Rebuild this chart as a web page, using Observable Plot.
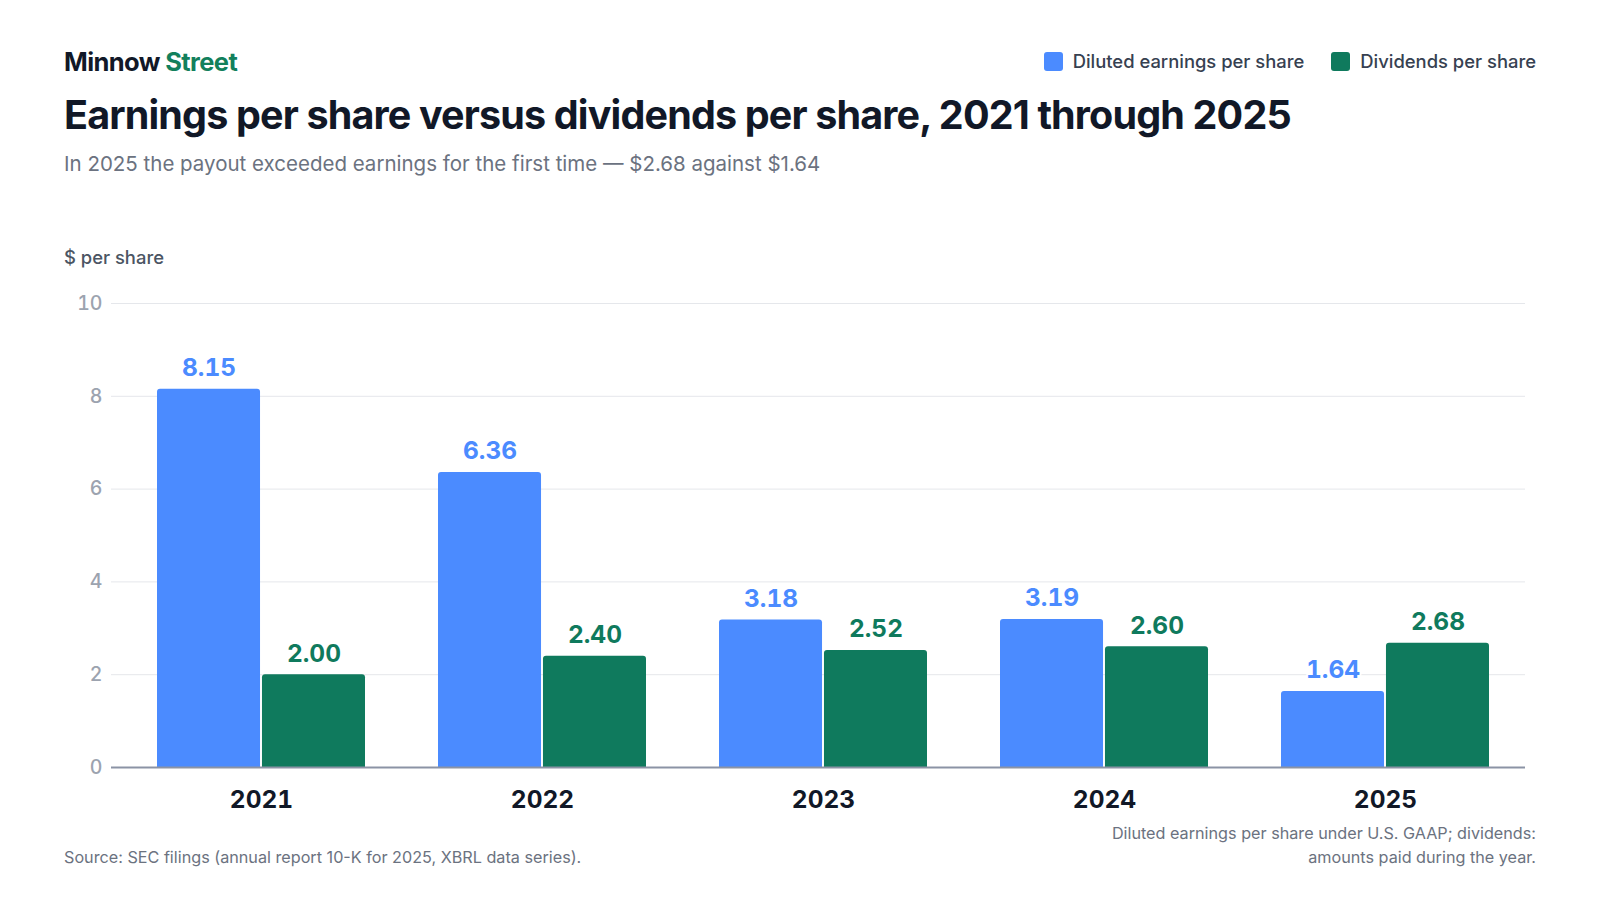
<!DOCTYPE html>
<html>
<head>
<meta charset="utf-8">
<script src="https://cdn.jsdelivr.net/npm/d3@7"></script>
<script src="https://cdn.jsdelivr.net/npm/@observablehq/plot@0.6"></script>
<style>
  html, body { margin: 0; padding: 0; background: #fff; }
  body { width: 1600px; height: 900px; position: relative; font-family: Inter, "Noto Sans", sans-serif; overflow: hidden; }
  .abs { position: absolute; white-space: nowrap; }
  #brand { left: 64px; top: 46px; font-size: 25.5px; font-weight: 700; color: #111827; letter-spacing: -0.6px; line-height: 32px; }
  #brand span { color: #12805c; }
  #title { left: 64px; top: 90px; font-size: 39.5px; font-weight: 700; color: #111827; letter-spacing: -0.85px; line-height: 50px; }
  #subtitle { left: 64px; top: 150px; font-size: 20.5px; font-weight: 400; color: #6b7280; line-height: 28px; }
  #legend { right: 64px; top: 48px; display: flex; gap: 27px; font-size: 18.4px; font-weight: 500; color: #374151; line-height: 26px; }
  #legend .item { display: flex; align-items: center; gap: 10px; }
  #legend .sw { width: 19px; height: 19px; border-radius: 3px; display: inline-block; }
  #ylabel { left: 64px; top: 245px; font-size: 18.4px; font-weight: 500; color: #4b5563; line-height: 24px; }
  #chart { left: 0; top: 270px; }
  #source { left: 64px; top: 845px; font-size: 16.2px; color: #6b7280; line-height: 24px; }
  #note { right: 64px; top: 822px; font-size: 16.2px; color: #6b7280; line-height: 23.5px; text-align: right; }
</style>
</head>
<body>
<div id="brand" class="abs">Minnow <span>Street</span></div>
<div id="legend" class="abs"></div>
<div id="title" class="abs">Earnings per share versus dividends per share, 2021 through 2025</div>
<div id="subtitle" class="abs">In 2025 the payout exceeded earnings for the first time — $2.68 against $1.64</div>
<div id="ylabel" class="abs">$ per share</div>
<div id="chart" class="abs"></div>
<div id="source" class="abs">Source: SEC filings (annual report 10-K for 2025, XBRL data series).</div>
<div id="note" class="abs">Diluted earnings per share under U.S. GAAP; dividends:<br>amounts paid during the year.</div>
<script>
const years = ["2021", "2022", "2023", "2024", "2025"];
const seriesNames = ["Diluted earnings per share", "Dividends per share"];
const seriesColors = ["#4b8bff", "#0f7a5d"];
const eps = [8.15, 6.36, 3.18, 3.19, 1.64];
const dividends = [2.00, 2.40, 2.52, 2.60, 2.68];
const yTicks = [0, 2, 4, 6, 8, 10];

const epsData = years.map((yr, i) => ({year: yr, series: seriesNames[0], value: eps[i]}));
const divData = years.map((yr, i) => ({year: yr, series: seriesNames[1], value: dividends[i]}));

// legend
const legend = document.getElementById("legend");
seriesNames.forEach((name, i) => {
  const item = document.createElement("div");
  item.className = "item";
  const sw = document.createElement("span");
  sw.className = "sw";
  sw.style.background = seriesColors[i];
  item.appendChild(sw);
  item.appendChild(document.createTextNode(name));
  legend.appendChild(item);
});

// layout
const W = 1600, mL = 111, mR = 75, xInset = 9;
const padInner = 0.26, padOuter = 0.13, barGap = 2;
const step = (W - mL - mR - xInset) / (years.length - padInner + 2 * padOuter);
const groupWidth = step * (1 - padInner);
const half = (groupWidth + barGap) / 2;   // inset that leaves one bar of the pair
const shift = (groupWidth + barGap) / 4;  // label offset to a bar centre

const labelStyle = {fontSize: 24.5, fontWeight: 700, fontVariant: "tabular-nums", stroke: "white", strokeWidth: 4, paintOrder: "stroke", dy: -21};

const chart = Plot.plot({
  width: W,
  height: 580,
  marginLeft: mL,
  marginRight: mR,
  marginTop: 33,
  marginBottom: 83,
  style: {fontFamily: "Inter, 'Noto Sans', sans-serif", background: "transparent", overflow: "visible"},
  x: {domain: years, paddingInner: padInner, paddingOuter: padOuter, insetLeft: xInset, label: null},
  y: {domain: [0, 10], label: null},
  color: {domain: seriesNames, range: seriesColors},
  marks: [
    Plot.ruleY(yTicks.filter(d => d > 0), {stroke: "#e5e7eb", strokeWidth: 1}),
    Plot.axisY(yTicks, {tickSize: 0, tickPadding: 9, fontSize: 19.5, fontWeight: 500, fill: "#9ca3af", label: null}),
    Plot.barY(epsData, {x: "year", y: "value", fill: "series", insetRight: half, ry1: 3}),
    Plot.barY(divData, {x: "year", y: "value", fill: "series", insetLeft: half, ry1: 3}),
    Plot.ruleY([0], {stroke: "#8b93a5", strokeWidth: 2}),
    Plot.text(epsData, {x: "year", y: "value", text: d => d.value.toFixed(2), fill: "series", ...labelStyle, dx: -shift}),
    Plot.text(divData, {x: "year", y: "value", text: d => d.value.toFixed(2), fill: "series", ...labelStyle, dx: shift}),
    Plot.axisX({anchor: "bottom", tickSize: 0, tickPadding: 23, fontSize: 24.5, fontWeight: 700, fontVariant: "tabular-nums", fill: "#111827", label: null})
  ]
});
document.getElementById("chart").appendChild(chart);
</script>
</body>
</html>
